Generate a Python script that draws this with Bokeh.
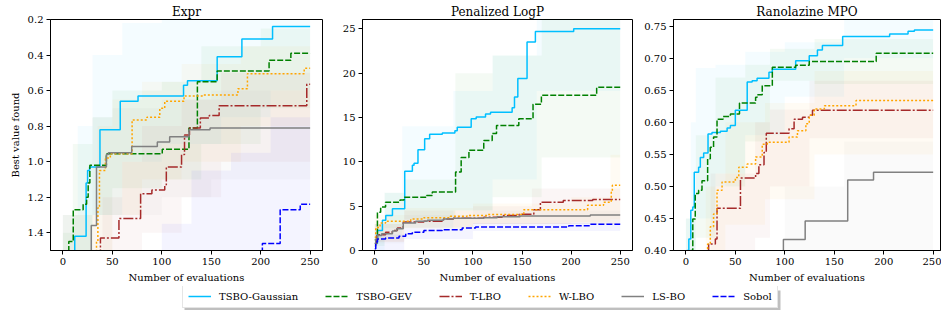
from bokeh.plotting import figure
from bokeh.layouts import column, row
from bokeh.models import Range1d, Legend, LegendItem, FixedTicker, PrintfTickFormatter, BoxAnnotation
from bokeh.embed import file_html
from bokeh.resources import INLINE

FONT = "DejaVu Serif"
methods = ["TSBO-Gaussian", "TSBO-GEV", "T-LBO", "W-LBO", "LS-BO", "Sobol"]
colors = ["#00BFFF", "#008000", "#A52A2A", "#FFA500", "#808080", "#0000FF"]
dashes = ["solid", "6 2", "10 2 2 2", "2 2", "solid", "6 2"]
x_ticks = [0, 50, 100, 150, 200, 250]

# ---------------- Expr (lower is better, inverted axis) ----------------
expr_ticks = [0.2, 0.4, 0.6, 0.8, 1.0, 1.2, 1.4]
expr_gauss_x = [0, 12, 23.5, 25, 27, 37.5, 58, 76, 122, 126, 156, 181, 212, 250]
expr_gauss_y = [1.7, 1.42, 1.12, 1.05, 1.03, 0.82, 0.66, 0.63, 0.57, 0.545, 0.41, 0.31, 0.24, 0.24]
expr_gev_x = [0, 6, 10.5, 20.5, 24, 25.6, 27.3, 44, 100.5, 127.5, 136, 156, 208.5, 230.5, 250]
expr_gev_y = [1.7, 1.45, 1.27, 1.24, 1.20, 1.12, 1.02, 0.955, 0.93, 0.81, 0.55, 0.49, 0.43, 0.39, 0.39]
expr_tlbo_x = [0, 38, 56.7, 78.6, 90, 103, 104.6, 120, 123, 128, 139, 148, 158, 246.6, 250]
expr_tlbo_y = [1.7, 1.43, 1.32, 1.18, 1.16, 1.13, 1.03, 0.96, 0.85, 0.81, 0.755, 0.74, 0.685, 0.565, 0.565]
expr_wlbo_x = [0, 34, 35.4, 37, 43, 48, 70, 85, 98, 103, 122.5, 141, 177, 186.6, 244, 250]
expr_wlbo_y = [1.7, 1.45, 1.26, 1.05, 0.98, 0.955, 0.765, 0.75, 0.70, 0.66, 0.63, 0.625, 0.59, 0.505, 0.475, 0.475]
expr_lsbo_x = [0, 28.7, 34, 44, 46, 69.6, 95.5, 108, 127.5, 148.8, 250]
expr_lsbo_y = [1.7, 1.36, 1.03, 0.96, 0.95, 0.915, 0.89, 0.86, 0.82, 0.81, 0.81]
expr_sobol_x = [0, 201.7, 219.7, 240, 250]
expr_sobol_y = [1.7, 1.46, 1.27, 1.24, 1.24]
# bands (x, edge 1, edge 2)
expr_gauss_bx = [0, 15, 30, 60, 100, 160, 210, 250]
expr_gauss_b1 = [1.5, 1.5, 1.3, 1.0, 0.9, 0.75, 0.6, 0.6]
expr_gauss_b2 = [1.3, 0.8, 0.4, 0.22, 0.2, 0.2, 0.2, 0.2]
expr_gev_bx = [0, 10, 30, 50, 100, 140, 200, 250]
expr_gev_b1 = [1.5, 1.5, 1.3, 1.15, 1.1, 0.9, 0.7, 0.65]
expr_gev_b2 = [1.4, 0.9, 0.75, 0.6, 0.55, 0.35, 0.25, 0.22]
expr_tlbo_bx = [0, 40, 60, 80, 120, 160, 250]
expr_tlbo_b1 = [1.5, 1.5, 1.5, 1.4, 1.2, 1.0, 0.9]
expr_tlbo_b2 = [1.5, 1.2, 1.0, 0.8, 0.65, 0.5, 0.4]
expr_wlbo_bx = [0, 35, 50, 80, 120, 180, 250]
expr_wlbo_b1 = [1.5, 1.5, 1.3, 1.1, 1.0, 0.8, 0.75]
expr_wlbo_b2 = [1.3, 0.8, 0.65, 0.55, 0.45, 0.35, 0.3]
expr_lsbo_bx = [0, 30, 50, 100, 150, 250]
expr_lsbo_b1 = [1.5, 1.5, 1.3, 1.2, 1.1, 1.1]
expr_lsbo_b2 = [1.3, 0.75, 0.7, 0.65, 0.6, 0.6]
expr_sobol_bx = [0, 100, 130, 170, 210, 250]
expr_sobol_b1 = [1.5, 1.5, 1.5, 1.5, 1.5, 1.5]
expr_sobol_b2 = [1.5, 1.35, 1.05, 0.95, 0.75, 0.73]

# ---------------- Penalized LogP ----------------
logp_ticks = [0, 5, 10, 15, 20, 25]
logp_gauss_x = [0, 2.7, 7.8, 11.2, 18, 30.5, 38.3, 40, 44, 50.8, 55.9, 68.8, 81.6, 84, 98.2, 103.3,
                112.8, 117.9, 139.9, 142.3, 145.7, 155.1, 163.6, 202.6, 250]
logp_gauss_y = [0.8, 2.25, 3.4, 3.95, 4.7, 8.95, 9.6, 9.85, 11.35, 12.6, 13.1, 13.25, 13.5, 13.9, 14.85, 15.05,
                15.4, 15.6, 16.1, 17.3, 19.4, 23.5, 24.7, 25.0, 25.0]
logp_gev_x = [0, 2.7, 6, 11, 25.7, 29.8, 52.8, 58.6, 82.3, 88, 95.9, 111, 119.6, 124, 146.7, 161.2, 169.7, 226, 250]
logp_gev_y = [1.2, 4.3, 4.9, 5.45, 5.7, 6.0, 6.2, 6.6, 8.85, 10.5, 11.3, 12.4, 13.2, 14.1, 14.85, 16.5, 17.5, 18.4, 18.4]
logp_tlbo_x = [0, 2, 11, 18, 23, 29, 50, 70, 80, 111, 131, 147, 162, 168.7, 192, 222, 250]
logp_tlbo_y = [0.8, 1.77, 2.07, 2.25, 2.55, 3.2, 3.3, 3.55, 3.65, 3.75, 3.95, 4.1, 4.6, 5.45, 5.65, 5.75, 5.75]
logp_wlbo_x = [0, 1, 5.4, 11, 36.6, 50, 77, 94, 114.5, 151.8, 216.8, 233, 240.9, 242, 250]
logp_wlbo_y = [1.5, 2.6, 3.1, 3.3, 3.55, 3.7, 3.85, 3.95, 4.05, 4.6, 5.1, 5.45, 6.6, 7.35, 7.35]
logp_lsbo_x = [0, 1, 2.7, 7, 18, 22.4, 29, 41.7, 53.5, 70, 80, 111, 124.7, 148, 219.5, 250]
logp_lsbo_y = [0.5, 1.3, 1.7, 1.9, 2.2, 2.45, 3.1, 3.3, 3.4, 3.55, 3.65, 3.7, 3.8, 3.9, 4.0, 4.0]
logp_sobol_x = [0, 1, 2.7, 11, 24.7, 31.5, 38.3, 50, 68.8, 89, 102.6, 197.5, 219.5, 250]
logp_sobol_y = [0.2, 0.95, 1.3, 1.4, 1.6, 1.9, 2.05, 2.25, 2.35, 2.55, 2.65, 2.8, 2.95, 2.95]
logp_gauss_bx = [0, 10, 28, 80, 120, 165, 250]
logp_gauss_b1 = [0, 1.5, 2.5, 4.5, 8, 18, 20.2]
logp_gauss_b2 = [2, 6.5, 14, 18, 22, 26.1, 26.1]
logp_gev_bx = [0, 10, 30, 82, 120, 170, 250]
logp_gev_b1 = [0.5, 2.5, 3.5, 4.5, 6, 10.5, 10.5]
logp_gev_b2 = [3, 6.5, 8, 20, 22, 26.1, 26.1]
logp_tlbo_bx = [0, 30, 100, 160, 250]
logp_tlbo_b1 = [1, 2.5, 3, 3, 3.5]
logp_tlbo_b2 = [3, 4.5, 5, 7, 7]
logp_wlbo_bx = [0, 30, 100, 200, 240, 250]
logp_wlbo_b1 = [1, 2.5, 3, 3.2, 3.5, 3.5]
logp_wlbo_b2 = [4, 4.8, 5.3, 6, 10.8, 10.8]
logp_lsbo_bx = [0, 30, 100, 250]
logp_lsbo_b1 = [0.8, 2.6, 3, 3.3]
logp_lsbo_b2 = [3, 4, 4.5, 4.8]
logp_sobol_bx = [0, 30, 100, 250]
logp_sobol_b1 = [0, 1.3, 2.2, 2.5]
logp_sobol_b2 = [1.8, 2.5, 3.1, 3.4]

# ---------------- Ranolazine MPO ----------------
rano_ticks = [0.40, 0.45, 0.50, 0.55, 0.60, 0.65, 0.70, 0.75]
rano_gauss_x = [0, 1, 3, 5, 7, 8.5, 12.9, 14.6, 18, 22.4, 26.4, 34.9, 41.7, 45, 50, 62, 67, 72, 84, 87.4,
                111, 124.7, 133, 138, 158.5, 206, 224.6, 231, 250]
rano_gauss_y = [0.38, 0.40, 0.418, 0.463, 0.468, 0.522, 0.53, 0.545, 0.552, 0.582, 0.584, 0.586, 0.591, 0.595,
                0.619, 0.663, 0.665, 0.669, 0.678, 0.683, 0.696, 0.704, 0.713, 0.72, 0.734, 0.738, 0.742, 0.744, 0.744]
rano_gev_x = [0, 5, 7, 9.5, 12.9, 16.3, 22, 24.7, 28, 31.5, 37.6, 45, 54.2, 70.5, 72, 77.2, 87.4, 111, 124.7, 192.4, 250]
rano_gev_y = [0.38, 0.40, 0.449, 0.489, 0.494, 0.509, 0.543, 0.561, 0.577, 0.605, 0.609, 0.613, 0.63, 0.639,
              0.643, 0.657, 0.686, 0.689, 0.695, 0.708, 0.708]
rano_tlbo_x = [0, 22, 23, 29.8, 31.5, 55.2, 70.5, 73.8, 79, 81.3, 104.3, 109.4, 117.9, 124.7, 128, 250]
rano_tlbo_y = [0.38, 0.40, 0.41, 0.418, 0.466, 0.513, 0.52, 0.534, 0.553, 0.583, 0.59, 0.605, 0.608, 0.611, 0.619, 0.619]
rano_wlbo_x = [0, 22, 24.7, 28, 31.5, 36.6, 50, 53.5, 62, 70.5, 77.2, 82.3, 104.3, 112.8, 121.3, 124.7, 129.7, 140, 172, 250]
rano_wlbo_y = [0.38, 0.41, 0.437, 0.457, 0.494, 0.507, 0.514, 0.53, 0.535, 0.546, 0.566, 0.569, 0.577, 0.587,
               0.598, 0.611, 0.621, 0.626, 0.634, 0.634]
rano_lsbo_x = [0, 98.6, 120.6, 163.6, 189.7, 250]
rano_lsbo_y = [0.30, 0.417, 0.446, 0.51, 0.522, 0.522]
rano_sobol_x = [0, 50, 150, 250]
rano_sobol_y = [0.25, 0.30, 0.33, 0.35]
rano_gauss_bx = [0, 5, 10, 30, 60, 100, 160, 250]
rano_gauss_b1 = [0.35, 0.40, 0.45, 0.52, 0.58, 0.64, 0.70, 0.705]
rano_gauss_b2 = [0.45, 0.60, 0.685, 0.69, 0.71, 0.725, 0.761, 0.761]
rano_gev_bx = [0, 10, 30, 60, 85, 130, 250]
rano_gev_b1 = [0.38, 0.42, 0.50, 0.57, 0.665, 0.66, 0.665]
rano_gev_b2 = [0.45, 0.58, 0.67, 0.69, 0.715, 0.73, 0.735]
rano_tlbo_bx = [0, 25, 70, 85, 125, 250]
rano_tlbo_b1 = [0.38, 0.39, 0.42, 0.50, 0.575, 0.575]
rano_tlbo_b2 = [0.40, 0.52, 0.60, 0.62, 0.665, 0.665]
rano_wlbo_bx = [0, 20, 40, 80, 130, 250]
rano_wlbo_b1 = [0.38, 0.40, 0.44, 0.48, 0.55, 0.57]
rano_wlbo_b2 = [0.40, 0.50, 0.60, 0.63, 0.68, 0.70]
rano_lsbo_bx = [0, 75, 100, 160, 250]
rano_lsbo_b1 = [0.38, 0.38, 0.38, 0.40, 0.438]
rano_lsbo_b2 = [0.38, 0.40, 0.50, 0.57, 0.575]

BAND_ALPHA = 0.045
FIG_H = 286


def style(p, ticks, fmt, ylabel):
    p.xgrid.visible = False
    p.ygrid.visible = False
    p.outline_line_color = "black"
    p.outline_line_width = 1
    p.outline_line_alpha = 1
    p.title.text_font = FONT
    p.title.text_font_size = "12px"
    p.title.text_font_style = "normal"
    p.title.align = "center"
    p.title.text_color = "black"
    p.title.standoff = 2
    p.xaxis.ticker = FixedTicker(ticks=x_ticks)
    p.yaxis.ticker = FixedTicker(ticks=ticks)
    p.yaxis.formatter = PrintfTickFormatter(format=fmt)
    p.xaxis.axis_label = "Number of evaluations"
    if ylabel:
        p.yaxis.axis_label = ylabel
    for ax in (p.xaxis[0], p.yaxis[0]):
        ax.axis_line_color = "black"
        ax.major_tick_line_color = "black"
        ax.minor_tick_line_color = None
        ax.major_tick_in = 0
        ax.major_tick_out = 4
        ax.major_label_standoff = 3
        ax.major_label_text_font = FONT
        ax.major_label_text_font_size = "10px"
        ax.major_label_text_font_style = "normal"
        ax.major_label_text_color = "black"
        ax.axis_label_text_font = FONT
        ax.axis_label_text_font_size = "10px"
        ax.axis_label_text_font_style = "normal"
        ax.axis_label_text_color = "black"
        ax.axis_label_standoff = 4


def panel(title, y_range, ticks, fmt, lines, bands, width, left, right, x_end, ylabel=None):
    p = figure(width=width, height=FIG_H, title=title, x_range=Range1d(-12.5, x_end), y_range=y_range,
               output_backend="svg", toolbar_location=None,
               min_border_left=left, min_border_right=right, min_border_top=19, min_border_bottom=36)
    style(p, ticks, fmt, ylabel)
    for (bx, b1, b2), c in zip(bands, colors):
        p.varea_step(x=bx, y1=b1, y2=b2, step_mode="after", fill_color=c, fill_alpha=BAND_ALPHA)
    for (lx, ly), c, d in zip(lines, colors, dashes):
        p.step(x=lx, y=ly, mode="after", line_color=c, line_width=1.5, line_dash=d)
    return p


p1 = panel("Expr", Range1d(1.5, 0.2), expr_ticks, "%.1f",
           [(expr_gauss_x, expr_gauss_y), (expr_gev_x, expr_gev_y), (expr_tlbo_x, expr_tlbo_y),
            (expr_wlbo_x, expr_wlbo_y), (expr_lsbo_x, expr_lsbo_y), (expr_sobol_x, expr_sobol_y)],
           [(expr_gauss_bx, expr_gauss_b1, expr_gauss_b2), (expr_gev_bx, expr_gev_b1, expr_gev_b2),
            (expr_tlbo_bx, expr_tlbo_b1, expr_tlbo_b2), (expr_wlbo_bx, expr_wlbo_b1, expr_wlbo_b2),
            (expr_lsbo_bx, expr_lsbo_b1, expr_lsbo_b2), (expr_sobol_bx, expr_sobol_b1, expr_sobol_b2)],
           327, 50, 5, 262.5, ylabel="Best value found")
p2 = panel("Penalized LogP", Range1d(0, 26.05), logp_ticks, "%d",
           [(logp_gauss_x, logp_gauss_y), (logp_gev_x, logp_gev_y), (logp_tlbo_x, logp_tlbo_y),
            (logp_wlbo_x, logp_wlbo_y), (logp_lsbo_x, logp_lsbo_y), (logp_sobol_x, logp_sobol_y)],
           [(logp_gauss_bx, logp_gauss_b1, logp_gauss_b2), (logp_gev_bx, logp_gev_b1, logp_gev_b2),
            (logp_tlbo_bx, logp_tlbo_b1, logp_tlbo_b2), (logp_wlbo_bx, logp_wlbo_b1, logp_wlbo_b2),
            (logp_lsbo_bx, logp_lsbo_b1, logp_lsbo_b2), (logp_sobol_bx, logp_sobol_b1, logp_sobol_b2)],
           310, 35, 5, 262.5)
p3 = panel("Ranolazine MPO", Range1d(0.40, 0.7605), rano_ticks, "%.2f",
           [(rano_gauss_x, rano_gauss_y), (rano_gev_x, rano_gev_y), (rano_tlbo_x, rano_tlbo_y),
            (rano_wlbo_x, rano_wlbo_y), (rano_lsbo_x, rano_lsbo_y), (rano_sobol_x, rano_sobol_y)],
           [(rano_gauss_bx, rano_gauss_b1, rano_gauss_b2), (rano_gev_bx, rano_gev_b1, rano_gev_b2),
            (rano_tlbo_bx, rano_tlbo_b1, rano_tlbo_b2), (rano_wlbo_bx, rano_wlbo_b1, rano_wlbo_b2),
            (rano_lsbo_bx, rano_lsbo_b1, rano_lsbo_b2)],
           304, 36, 1, 257.4)

# legend strip
pl = figure(width=941, height=24, output_backend="svg", toolbar_location=None,
            x_range=Range1d(0, 1), y_range=Range1d(0, 1), x_axis_location=None, y_axis_location=None,
            min_border=0)
pl.xgrid.visible = False
pl.ygrid.visible = False
pl.outline_line_color = None
nan = float("nan")
items = []
for m, c, d in zip(methods, colors, dashes):
    r = pl.line(x=[nan, nan], y=[nan, nan], line_color=c, line_width=1.5, line_dash=d)
    items.append(LegendItem(label=m, renderers=[r]))

# soft drop shadow behind the legend box (screen pixels)
pl.add_layout(BoxAnnotation(left=184, right=780, bottom=0, top=20,
                            left_units="screen", right_units="screen",
                            bottom_units="screen", top_units="screen",
                            fill_color="#808080", fill_alpha=0.5, line_color=None))
leg = Legend(items=items, location=(182, 2), orientation="horizontal", margin=0, padding=5,
             spacing=27, glyph_width=23, glyph_height=12, label_height=12, label_standoff=8,
             label_text_font=FONT, label_text_font_size="10px", label_text_color="black",
             border_line_color="#cccccc", border_line_width=1, background_fill_color="white",
             background_fill_alpha=1)
pl.add_layout(leg)

layout = column(row(p1, p2, p3), pl)
open("out.html", "w").write(file_html(layout, INLINE))
